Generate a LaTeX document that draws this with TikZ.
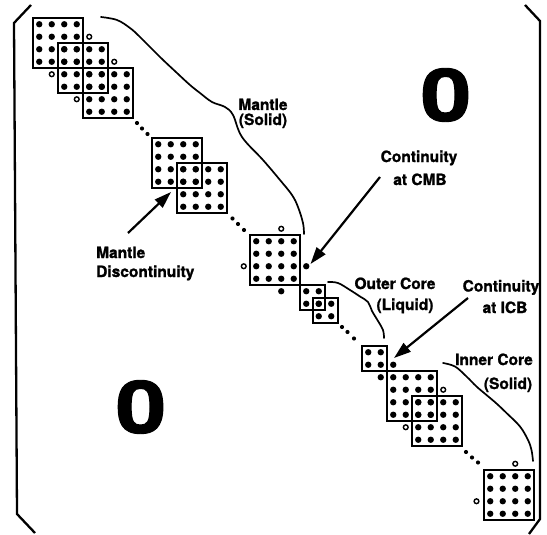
\documentclass[tikz,border=0pt]{standalone}
\usepackage{fontspec}
\setmainfont{TeX Gyre Heros}[BoldFeatures={FakeBold=1.3}]
\usetikzlibrary{arrows.meta}

\tikzset{
  blockbox/.style={draw, line width=2pt, inner sep=0pt, outer sep=0pt, anchor=north west},
  ring/.style={draw, line width=1.4pt},
  boundary/.style={line width=1.7pt, line join=round, line cap=round},
  bracketline/.style={line width=2.3pt, line join=miter},
  pointer/.style={line width=2.2pt, -{Triangle[length=17pt,width=11pt]}},
  lab/.style={font=\fontsize{15.5}{17}\selectfont\bfseries, inner sep=0pt},
  zero/.style={font=\fontsize{73}{80}\selectfont\bfseries, inner sep=0pt, xscale=1.25},
}

% square block of n x n coefficient dots, top-left corner at (X,Y)
\newcommand\dotblock[4]{%
  \node[blockbox, minimum width={#4*12.5pt}, minimum height={#4*12.5pt}] (#1) at (#2,#3) {};
  \foreach \i in {1,...,#4}{\foreach \j in {1,...,#4}{%
    \fill ({#2+12.5*\i-6.25},{#3+12.5*\j-6.25}) circle (3.2pt);}}%
}
\newcommand\ringat[1]{\draw[ring] #1 circle (2.4pt);}
\newcommand\dotat[1]{\fill #1 circle (3.2pt);}
\newcommand\elldots[3]{\foreach \p in {#1,#2,#3}{\fill \p circle (2.1pt);}}

\begin{document}
\begin{tikzpicture}[x=1pt,y=-1pt]
\useasboundingbox (0,0) rectangle (547,535);

% matrix brackets
\draw[bracketline] (31,5) -- (14,23) -- (17,514) -- (35,533);
\draw[bracketline] (525,5) -- (540,21) -- (540,519) -- (529,534);

% mantle blocks
\dotblock{m1}{33}{18}{4}
\dotblock{m2}{58}{43}{4}
\dotblock{m3}{83}{68}{4}
\ringat{(89.25,36.75)}
\ringat{(114.25,61.75)}
\ringat{(51.75,74.25)}
\ringat{(76.75,99.25)}
\elldots{(137,123)}{(142,128.5)}{(147.5,134)}

% mantle discontinuity
\dotblock{m4}{152}{138}{4}
\dotblock{m5}{177}{163}{4}
\elldots{(232.5,218.5)}{(238,224)}{(244,230)}

% last mantle block at the CMB
\dotblock{cmb}{250}{235}{4}
\ringat{(281.25,228.75)}
\ringat{(243.75,266.25)}
\dotat{(306.25,266.25)}
\dotat{(281.25,291.25)}

% outer core
\dotblock{oc1}{300}{285}{2}
\dotblock{oc2}{312.5}{297.5}{2}
\elldots{(342,327)}{(347.5,332)}{(354,338.5)}
\dotblock{oc3}{362}{346}{2}
\dotat{(393.25,364.75)}
\dotat{(380.75,377.25)}

% inner core
\dotblock{ic1}{387}{371}{4}
\dotblock{ic2}{412}{396}{4}
\ringat{(443.25,389.75)}
\ringat{(405.75,427.25)}
\elldots{(466,452)}{(472,457.5)}{(478,462.5)}
\dotblock{ic3}{484}{470}{4}
\ringat{(515.25,463.75)}
\ringat{(476.5,501.25)}

% region boundaries
\draw[boundary] plot[smooth, tension=0.6] coordinates {(101,17) (117,20) (130,28) (140,37) (160,57) (177,73) (190,85) (200,93) (212,102) (225,107) (233,115) (242,137) (263,160) (280,180) (292,195) (298,207) (303,223) (304,234)};
\draw[boundary] plot[smooth, tension=0.6] coordinates {(328,282) (338,283) (350,290) (360,296.5) (368,302) (372,311) (378,321) (383,330) (384,338)};
\draw[boundary] plot[smooth, tension=0.6] coordinates {(443,363) (455,366.5) (466.5,376.5) (476.5,386.5) (486.5,395) (496.5,403.5) (506.5,413) (520,426.5) (528,440) (531.5,450) (533,461)};

% labels
\node[lab, anchor=base] (ms1) at (263,110) {Mantle};
\node[lab, anchor=base] (ms2) at (263,125) {(Solid)};
\node[lab, anchor=base west] (md1) at (96,258) {Mantle};
\node[lab, anchor=base west] (md2) at (96,277) {Discontinuity};
\node[lab, anchor=base] (cmb1) at (419,162) {Continuity};
\node[lab, anchor=base] (cmb2) at (420,185) {at CMB};
\node[lab, anchor=base] (ol1) at (395,289) {Outer Core};
\node[lab, anchor=base] (ol2) at (405,310) {(Liquid)};
\node[lab, anchor=base] (icb1) at (501,291.5) {Continuity};
\node[lab, anchor=base] (icb2) at (505,313) {at ICB};
\node[lab, anchor=base] (is1) at (494,365) {Inner Core};
\node[lab, anchor=base] (is2) at (508,389) {(Solid)};

% zero blocks of the matrix
\node[zero] (zup) at (446,95) {0};
\node[zero] (zlo) at (141,407) {0};

% pointers
\coordinate (mdTail) at (128,233);
\coordinate (mdTip) at (171,192);
\coordinate (cmbTail) at (380,177);
\coordinate (cmbTip) at (310.5,264);
\coordinate (icbTail) at (468,298);
\coordinate (icbTip) at (394,358);
\draw[pointer] (mdTail) -- (mdTip);
\draw[pointer] (cmbTail) -- (cmbTip);
\draw[pointer] (icbTail) -- (icbTip);
\end{tikzpicture}
\end{document}
